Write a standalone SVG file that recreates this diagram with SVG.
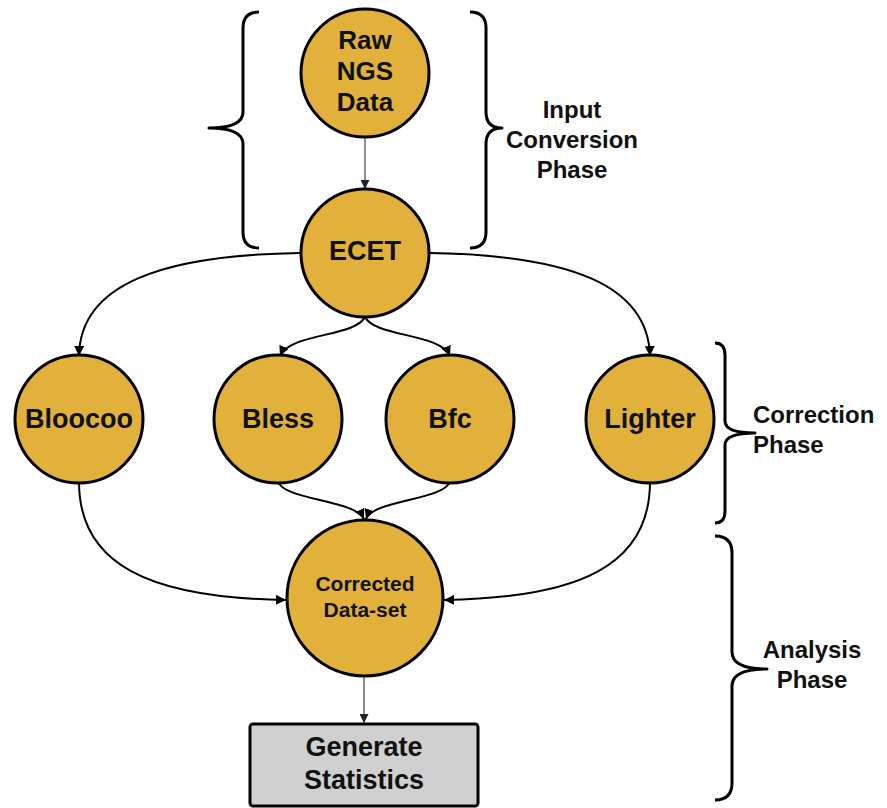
<svg xmlns="http://www.w3.org/2000/svg" width="887" height="808" viewBox="0 0 887 808">
<defs>
<style>
.node{fill:#E2B13B;stroke:#000;stroke-width:3}
.box{fill:#D0D0D0;stroke:#000;stroke-width:3}
.lbl{font-family:"Liberation Sans",Arial,sans-serif;font-weight:bold;fill:#111;text-anchor:middle}
.edge{fill:none;stroke:#000;stroke-width:2}
.thin{fill:none;stroke:#444;stroke-width:1.2}
.brace{fill:none;stroke:#000;stroke-width:3;stroke-linejoin:round}
.side{font-family:"Liberation Sans",Arial,sans-serif;font-weight:bold;fill:#111;font-size:24px}
</style>
<marker id="ah" viewBox="0 0 10 10" refX="10" refY="5" markerWidth="10" markerHeight="10" markerUnits="userSpaceOnUse" orient="auto">
<path d="M0,0 L10,5 L0,10 Z" fill="#000"/>
</marker>
<marker id="ahs" viewBox="0 0 10 10" refX="10" refY="5" markerWidth="9" markerHeight="9" markerUnits="userSpaceOnUse" orient="auto">
<path d="M0,0 L10,5 L0,10 Z" fill="#222"/>
</marker>
</defs>
<rect width="887" height="808" fill="#fff"/>

<g id="connectors">
<path class="thin" d="M365,137 L365,189" marker-end="url(#ahs)"/>
<path class="edge" d="M300,253 C160,255 80,285 79,356" marker-end="url(#ah)"/>
<path class="edge" d="M430,253 C570,255 648,285 650,356" marker-end="url(#ah)"/>
<path class="edge" d="M365,317 C355,337 290,333 280,356" marker-end="url(#ah)"/>
<path class="edge" d="M365,317 C375,337 440,333 450,356" marker-end="url(#ah)"/>
<path class="edge" d="M278,482 C285,500 355,500 364,519" marker-end="url(#ah)"/>
<path class="edge" d="M450,482 C443,500 373,500 366,519" marker-end="url(#ah)"/>
<path class="edge" d="M79,482 C79,565 150,598 286,600" marker-end="url(#ah)"/>
<path class="edge" d="M650,482 C650,565 580,598 444,600" marker-end="url(#ah)"/>
<path class="thin" d="M364,676 L364,723" marker-end="url(#ahs)"/>
</g>

<g id="braces">
<path class="brace" d="M259,12 Q243,12 243,28 L243,112 Q243,128 209,128 Q243,128 243,144 L243,232 Q243,248 259,248"/>
<path class="brace" d="M470,12 Q486,12 486,28 L486,112 Q486,128 502,128 Q486,128 486,144 L486,232 Q486,248 470,248"/>
<path class="brace" d="M715,343 Q725,343 725,355 L725,421 Q725,433 755,433 Q725,433 725,445 L725,511 Q725,523 715,523"/>
<path class="brace" d="M715,536 Q732,536 732,553 L732,652 Q732,669 767,669 Q732,669 732,686 L732,783 Q732,800 715,800"/>
</g>

<g id="label-input">
<text class="side" x="572" y="118" text-anchor="middle">Input</text>
<text class="side" x="572" y="148" text-anchor="middle">Conversion</text>
<text class="side" x="572" y="178" text-anchor="middle">Phase</text>
</g>
<g id="label-correction">
<text class="side" x="753" y="423">Correction</text>
<text class="side" x="753" y="453">Phase</text>
</g>
<g id="label-analysis">
<text class="side" x="812" y="658" text-anchor="middle">Analysis</text>
<text class="side" x="812" y="688" text-anchor="middle">Phase</text>
</g>

<g id="node-raw">
<circle class="node" cx="365" cy="73" r="64"/>
<text class="lbl" x="365" y="49" font-size="26">Raw</text>
<text class="lbl" x="365" y="80" font-size="26">NGS</text>
<text class="lbl" x="365" y="111" font-size="26">Data</text>
</g>
<g id="node-ecet">
<circle class="node" cx="365" cy="253" r="64"/>
<text class="lbl" x="365" y="260" font-size="27">ECET</text>
</g>
<g id="node-bloocoo">
<circle class="node" cx="79" cy="419" r="64"/>
<text class="lbl" x="79" y="428" font-size="27">Bloocoo</text>
</g>
<g id="node-bless">
<circle class="node" cx="278" cy="419" r="64"/>
<text class="lbl" x="278" y="428" font-size="27">Bless</text>
</g>
<g id="node-bfc">
<circle class="node" cx="450" cy="419" r="64"/>
<text class="lbl" x="450" y="428" font-size="27">Bfc</text>
</g>
<g id="node-lighter">
<circle class="node" cx="650" cy="419" r="64"/>
<text class="lbl" x="650" y="428" font-size="27">Lighter</text>
</g>
<g id="node-corrected">
<circle class="node" cx="365" cy="598" r="78"/>
<text class="lbl" x="365" y="591" font-size="21">Corrected</text>
<text class="lbl" x="365" y="617" font-size="21">Data-set</text>
</g>
<g id="node-stats">
<rect class="box" x="250" y="724" width="228" height="82" rx="3"/>
<text class="lbl" x="364" y="756" font-size="27">Generate</text>
<text class="lbl" x="364" y="789" font-size="27">Statistics</text>
</g>
</svg>
